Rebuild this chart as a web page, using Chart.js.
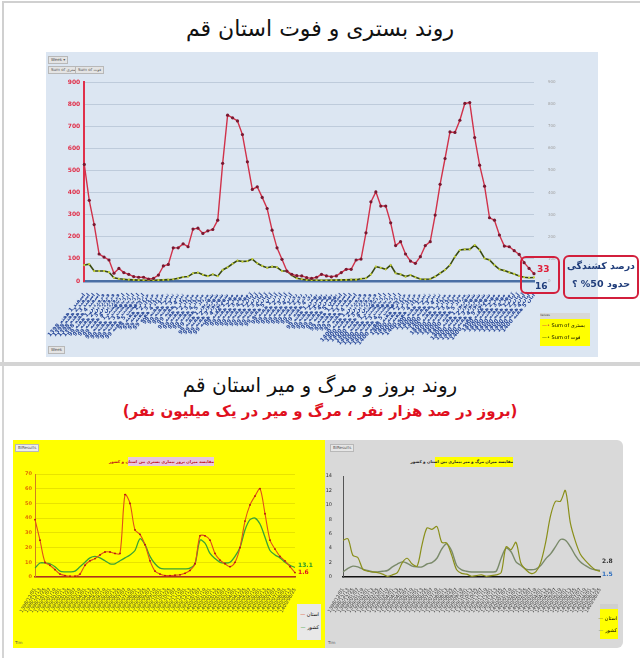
<!DOCTYPE html>
<html>
<head>
<meta charset="utf-8">
<script src="https://cdn.jsdelivr.net/npm/chart.js@4.4.1/dist/chart.umd.min.js"></script>
<style>
  body { margin: 0; width: 640px; height: 658px; background: #fff; position: relative; overflow: hidden; font-family: "DejaVu Sans", sans-serif; }
  .abs { position: absolute; }
  .title { position: absolute; left: 0; width: 640px; text-align: center; direction: rtl; white-space: nowrap; }
  .tag { position: absolute; background: #e4e4e4; border: 1px solid #b8b8b8; font-size: 4px; color: #555; padding: 0 2px; line-height: 6px; white-space: nowrap; }
  .nw { white-space: nowrap; }
  canvas { position: absolute; }
</style>
</head>
<body>
<!-- frames -->
<div class="abs" style="left:2px;top:1px;width:637px;height:360px;border-left:2px solid #d0d0d0;border-top:2px solid #d0d0d0;"></div>
<div class="abs" style="left:0;top:362px;width:640px;height:4px;background:#d4d4d4;"></div>
<div class="abs" style="left:2px;top:366px;width:2px;height:292px;background:#d4d4d4;"></div>

<div class="title" style="top:16px;font-size:22px;color:#111;">روند بستری و فوت استان قم</div>
<div class="abs" style="left:46px;top:52px;width:552px;height:305px;background:#dce6f2;"></div>
<div class="tag" style="left:48px;top:56px;">Week ▾</div>
<div class="tag" style="left:48px;top:66px;">Sum of بستری</div>
<div class="tag" style="left:75px;top:66px;">Sum of فوت</div>
<div class="tag" style="left:48px;top:346px;">Week</div>
<canvas id="topChart" width="552" height="305" style="left:46px;top:52px;"></canvas>

<!-- legend top -->
<div class="abs" style="left:540px;top:313px;width:50px;height:6px;background:#d8d8d8;font-size:3px;color:#444;">Values</div>
<div class="abs nw" style="left:540px;top:319px;width:50px;height:27px;background:#ffff00;font-size:5px;line-height:12px;direction:ltr;">
  <div style="padding-left:2px;"><span style="color:#d0324a;">—•</span> Sum of بستری</div>
  <div style="padding-left:2px;"><span style="color:#3a4a10;">—•</span> Sum of فوت</div>
</div>

<!-- annotations top -->
<div class="abs" style="left:520px;top:256px;width:36px;height:34px;border:2px solid #d21f3c;border-radius:6px;"></div>
<div class="abs nw" style="left:563px;top:255px;width:72px;height:40px;border:2px solid #d21f3c;border-radius:6px;direction:rtl;text-align:center;font-size:9.5px;font-weight:bold;line-height:18px;color:#1f3c7a;">درصد کشندگی<br>حدود 50% ؟</div>

<div class="title" style="top:373px;font-size:20px;color:#111;">روند بروز و مرگ و میر استان قم</div>
<div class="title" style="top:402px;font-size:15px;font-weight:bold;color:#e0101e;">(بروز در صد هزار نفر ، مرگ و میر در یک میلیون نفر)</div>

<div class="abs" style="left:13px;top:440px;width:312px;height:208px;background:#ffff00;"></div>
<div class="abs" style="left:325px;top:440px;width:298px;height:208px;background:#d9d9d9;border-radius:0 6px 6px 0;"></div>
<div class="tag" style="left:15px;top:444px;background:#eee;">BIResults</div>
<div class="tag" style="left:330px;top:444px;background:#e6e6e6;">BIResults</div>
<div class="abs" style="left:15px;top:640px;font-size:4px;color:#555;">Tim</div>
<div class="abs" style="left:328px;top:640px;font-size:4px;color:#555;">Tim</div>
<div class="abs nw" style="left:128px;top:457px;width:86px;height:9px;background:#e8c8e0;direction:rtl;text-align:center;font-size:4px;line-height:9px;color:#c0101e;font-weight:bold;">مقایسه میزان بروز بیماری بستری بین استان و کشور</div>
<div class="abs nw" style="left:435px;top:457px;width:78px;height:10px;background:#ffff00;direction:rtl;text-align:center;font-size:4px;line-height:10px;color:#222;font-weight:bold;">مقایسه میزان مرگ و میر بیماری بین استان و کشور</div>
<canvas id="incChart" width="312" height="208" style="left:13px;top:440px;"></canvas>
<canvas id="mortChart" width="298" height="208" style="left:325px;top:440px;"></canvas>

<!-- bottom legends -->
<div class="abs nw" style="left:297px;top:604px;width:24px;height:36px;background:#e8e8e8;font-size:5px;direction:rtl;line-height:13px;">
  <div style="margin-top:4px;padding-right:2px;">استان <span style="color:#e0501a;">—</span></div>
  <div style="padding-right:2px;">کشور <span style="color:#3aa335;">—</span></div>
</div>
<div class="abs" style="left:600px;top:604px;width:18px;height:5px;background:#cfcfcf;"></div>
<div class="abs nw" style="left:600px;top:609px;width:18px;height:30px;background:#ffff00;font-size:5px;direction:rtl;line-height:12px;">
  <div style="margin-top:3px;padding-right:1px;">استان <span style="color:#8a8f1a;">—</span></div>
  <div style="padding-right:1px;">کشور <span style="color:#7a8a6a;">—</span></div>
</div>

<script>
// weekly hospitalisations and deaths, Qom
const weekMonths = [
  ["اسفند", "1398", 4],
  ["فروردین", "99", 4], ["اردیبهشت", "99", 5], ["خرداد", "99", 4], ["تیر", "99", 4],
  ["مرداد", "99", 5], ["شهریور", "99", 4], ["مهر", "99", 4], ["آبان", "99", 5],
  ["آذر", "99", 4], ["دی", "99", 4], ["بهمن", "99", 5], ["اسفند", "99", 4],
  ["فروردین", "1400", 4], ["اردیبهشت", "1400", 5], ["خرداد", "1400", 4], ["تیر", "1400", 4],
  ["مرداد", "1400", 5], ["شهریور", "1400", 5], ["مهر", "1400", 4], ["آبان", "1400", 5]
];
const hospitalized = [
  527, 365, 255, 122, 108, 95, 35, 57, 38, 30,
  20, 17, 17, 9, 12, 27, 68, 75, 150, 150,
  168, 155, 235, 239, 215, 227, 233, 275, 532, 750,
  738, 724, 662, 539, 414, 426, 378, 328, 230, 150,
  98, 45, 30, 24, 23, 15, 12, 17, 30, 23,
  19, 23, 38, 53, 53, 95, 99, 218, 358, 403,
  339, 339, 263, 160, 178, 122, 90, 80, 110, 160,
  178, 298, 437, 554, 674, 672, 727, 803, 807, 649,
  524, 429, 286, 275, 208, 158, 155, 137, 120, 83,
  57, 33
];
const deaths = [
  72, 76, 45, 45, 45, 40, 15, 10, 8, 6,
  5, 4, 3, 3, 3, 4, 5, 6, 8, 12,
  18, 20, 35, 38, 28, 22, 30, 22, 50, 62,
  78, 92, 88, 90, 99, 80, 68, 60, 65, 62,
  45, 45, 25, 12, 8, 5, 4, 3, 3, 3,
  4, 4, 5, 5, 6, 6, 10, 12, 30, 65,
  60, 53, 72, 35, 30, 20, 27, 17, 9, 8,
  9, 20, 35, 50, 72, 110, 140, 143, 143, 162,
  140, 102, 95, 72, 53, 47, 39, 32, 23, 17,
  15, 16
];

// daily incidence per 100k (province vs country)
const incProvince = [
  39, 25, 10, 8, 5, 2, 1, 0.5, 0.5, 2,
  8, 11, 12.5, 15, 17, 17, 16, 16, 56, 50,
  32, 29, 22, 11, 4, 2, 1, 1, 1.2, 1.5,
  2.5, 4.5, 9, 28, 28, 25, 16, 11.5, 9, 7,
  10, 20, 38, 49, 55, 60, 43, 25, 19, 14,
  11, 7, 3
];
const incCountry = [
  6, 9.5, 9.5, 9, 7, 4, 3.5, 3.5, 4, 7,
  10, 13, 14, 13, 11, 9, 9, 11, 13, 15,
  18, 26, 22, 14, 9, 6, 5.5, 5.5, 5.5, 5.5,
  5.5, 6, 9, 25, 23, 16, 12.5, 10, 9.5, 10,
  14, 20, 32, 39, 40, 36, 27, 18, 15, 13,
  10, 8, 6.5
];
// deaths per million (province vs country)
const mortProvince = [
  5.1, 5.3, 3.0, 2.7, 1.1, 0.8, 0.7, 0.6, 0.4, 0.1,
  0.3, 0.6, 2.0, 2.6, 1.8, 1.5, 4.5, 6.8, 6.6, 7.0,
  4.8, 4.7, 3.0, 1.0, 0.5, 0.4, 0.1, 0.2, 0.3, 0.1,
  0.2, 0.3, 0.6, 4.2, 3.8, 4.8, 1.9, 1.0, 0.5, 0.7,
  2.0, 4.8, 8.5, 10.5, 10.5, 12.0, 7.5, 5.0, 3.2, 2.3,
  1.6, 1.0, 0.8
];
const mortCountry = [
  0.7, 1.2, 1.5, 1.4, 1.1, 0.9, 0.7, 0.7, 0.8, 0.9,
  1.4, 1.8, 2.1, 1.9, 1.5, 1.4, 1.4, 1.8, 2.0, 2.6,
  3.9, 4.6, 3.6, 1.6, 1.0, 0.8, 0.7, 0.7, 0.7, 0.7,
  0.7, 0.8, 2.6, 4.0, 3.5, 2.1, 1.6, 1.1, 1.0, 1.1,
  1.6, 2.5, 3.2, 4.2, 5.2, 5.1, 4.2, 3.0, 2.1, 1.6,
  1.2, 1.0, 0.9
];
const incEndLabels = ["1.6", "13.1"];
const mortEndLabels = ["2.8", "1.5"];

const weekLabels = [];
weekMonths.forEach(([m, y, n]) => {
  for (let w = 1; w <= n; w++) weekLabels.push(y + " " + m + " " + w + " هفته");
});

// dates every 12 days from 1398/12/01 (30-day months)
const dayLabels = [];
let yy = 1398, mm = 12, dd = 1;
for (let i = 0; i < incProvince.length; i++) {
  dayLabels.push(yy + "/" + String(mm).padStart(2, "0") + "/" + String(dd).padStart(2, "0"));
  dd += 12;
  if (dd > 30) { dd -= 30; mm++; }
  if (mm > 12) { mm = 1; yy++; }
}

const endLabelPlugin = {
  id: "endLabels",
  afterDatasetsDraw(chart, args, opts) {
    if (!opts.items) return;
    const ctx = chart.ctx;
    ctx.save();
    opts.items.forEach(it => {
      const meta = chart.getDatasetMeta(it.ds);
      const pt = meta.data[meta.data.length - 1];
      ctx.font = it.font;
      ctx.fillStyle = it.color;
      ctx.textBaseline = "middle";
      ctx.fillText(it.text, pt.x + it.dx, pt.y + it.dy);
    });
    ctx.restore();
  }
};

function fixed(w) { return function (s) { s.width = w; }; }
function fixedH(h) { return function (s) { s.height = h; }; }

new Chart(document.getElementById("topChart"), {
  type: "line",
  data: {
    labels: weekLabels,
    datasets: [
      { label: "Sum of بستری", data: hospitalized, borderColor: "#d0324a", borderWidth: 1.4,
        pointRadius: 1.6, pointBackgroundColor: "#7a1830", pointBorderWidth: 0, tension: 0, yAxisID: "y" },
      { label: "Sum of فوت", data: deaths, borderColor: "#3a4a10", borderWidth: 1.6,
        pointRadius: 1.1, pointBackgroundColor: "#c8d43a", pointBorderWidth: 0, tension: 0, yAxisID: "y" }
    ]
  },
  options: {
    responsive: false,
    animation: false,
    layout: { padding: { left: 0, top: 30, right: 34, bottom: 0 } },
    plugins: {
      legend: { display: false },
      tooltip: { enabled: false },
      endLabels: { items: [
        { ds: 0, text: "33", color: "#e0203a", font: "bold 9px 'DejaVu Sans'", dx: 3, dy: -4 },
        { ds: 1, text: "16", color: "#1f3c7a", font: "bold 9px 'DejaVu Sans'", dx: 1, dy: 9 }
      ] }
    },
    scales: {
      x: {
        grid: { display: false },
        border: { display: true, color: "#4a6fa5", width: 2.5 },
        ticks: { autoSkip: false, maxRotation: 50, minRotation: 50, color: "#2a4a9a", padding: 3,
          font: { size: 5.5, weight: "bold", family: "DejaVu Sans" } },
        afterFit: fixedH(76)
      },
      y: {
        min: 0, max: 900,
        ticks: { stepSize: 100, color: "#e0304a", padding: 4, font: { size: 6, weight: "bold", family: "DejaVu Sans" } },
        grid: { color: "rgba(165,180,200,0.55)", drawTicks: false },
        border: { display: true, color: "#e0304a", width: 2 },
        afterFit: fixed(38)
      },
      y2: {
        position: "right", min: 0, max: 900,
        ticks: { stepSize: 100, color: "#a0a0a0", padding: 6, font: { size: 4, family: "DejaVu Sans" } },
        grid: { display: false },
        border: { display: false },
        afterFit: fixed(30)
      }
    }
  },
  plugins: [endLabelPlugin]
});

new Chart(document.getElementById("incChart"), {
  type: "line",
  data: {
    labels: dayLabels,
    datasets: [
      { label: "استان", data: incProvince, borderColor: "#e0501a", borderWidth: 1.1,
        pointRadius: 0.9, pointBackgroundColor: "#b01010", pointBorderWidth: 0, tension: 0.3 },
      { label: "کشور", data: incCountry, borderColor: "#3aa335", borderWidth: 1.3,
        pointRadius: 0, tension: 0.3 }
    ]
  },
  options: {
    responsive: false,
    animation: false,
    layout: { padding: { left: 0, top: 34, right: 30, bottom: 0 } },
    plugins: {
      legend: { display: false },
      tooltip: { enabled: false },
      endLabels: { items: [
        { ds: 0, text: incEndLabels[0], color: "#e0101e", font: "bold 6px 'DejaVu Sans'", dx: 3, dy: 0 },
        { ds: 1, text: incEndLabels[1], color: "#2a9a2a", font: "bold 6px 'DejaVu Sans'", dx: 3, dy: -2 }
      ] }
    },
    scales: {
      x: {
        grid: { display: false },
        border: { display: true, color: "#b03020", width: 1.5 },
        ticks: { autoSkip: false, maxRotation: 60, minRotation: 60, color: "#333", padding: 2,
          font: { size: 4.8, family: "DejaVu Sans" } },
        afterFit: fixedH(71)
      },
      y: {
        min: 0, max: 70,
        ticks: { stepSize: 10, color: "#e07000", padding: 3, font: { size: 5, weight: "bold", family: "DejaVu Sans" } },
        grid: { color: "rgba(210,200,0,0.5)", drawTicks: false },
        border: { display: true, color: "#d08020", width: 1 },
        afterFit: fixed(22)
      }
    }
  },
  plugins: [endLabelPlugin]
});

new Chart(document.getElementById("mortChart"), {
  type: "line",
  data: {
    labels: dayLabels,
    datasets: [
      { label: "استان", data: mortProvince, borderColor: "#8a8f1a", borderWidth: 1.2,
        pointRadius: 0, tension: 0.3 },
      { label: "کشور", data: mortCountry, borderColor: "#7a8a6a", borderWidth: 1.4,
        pointRadius: 0, tension: 0.3 }
    ]
  },
  options: {
    responsive: false,
    animation: false,
    layout: { padding: { left: 0, top: 36, right: 23, bottom: 0 } },
    plugins: {
      legend: { display: false },
      tooltip: { enabled: false },
      endLabels: { items: [
        { ds: 0, text: mortEndLabels[0], color: "#333", font: "bold 6px 'DejaVu Sans'", dx: 2, dy: -10 },
        { ds: 1, text: mortEndLabels[1], color: "#3070c0", font: "bold 6px 'DejaVu Sans'", dx: 2, dy: 4 }
      ] }
    },
    scales: {
      x: {
        grid: { display: false },
        border: { display: true, color: "#111", width: 1.5 },
        ticks: { autoSkip: false, maxRotation: 60, minRotation: 60, color: "#333", padding: 2,
          font: { size: 4.8, family: "DejaVu Sans" } },
        afterFit: fixedH(71)
      },
      y: {
        min: 0, max: 14,
        ticks: { stepSize: 2, color: "#333", padding: 3, font: { size: 5, family: "DejaVu Sans" } },
        grid: { display: false },
        border: { display: true, color: "#555", width: 1 },
        afterFit: fixed(18)
      }
    }
  },
  plugins: [endLabelPlugin]
});
</script>
</body>
</html>
